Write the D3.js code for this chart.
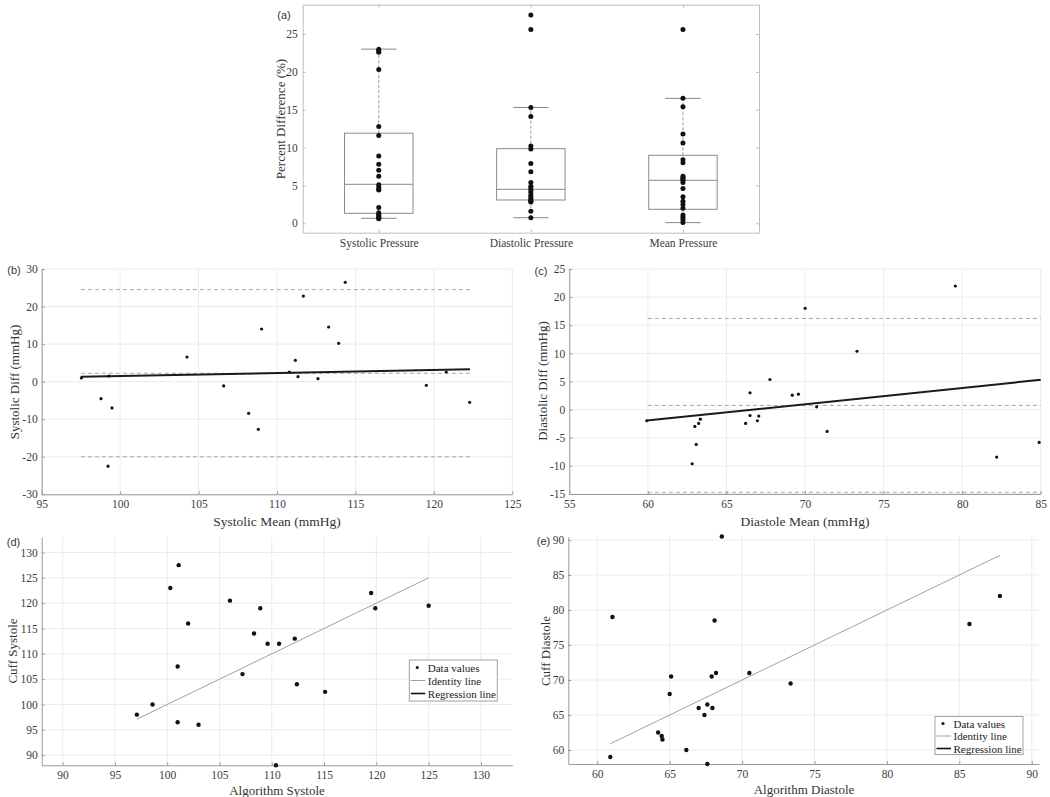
<!DOCTYPE html>
<html><head><meta charset="utf-8">
<script src="https://cdn.jsdelivr.net/npm/d3@7"></script>
<style>
html,body{margin:0;padding:0;background:#fff;}
svg{display:block;}
</style></head><body><svg id="c" width="1050" height="797"></svg>
<script>
// ---------------- DATA ----------------
// (a) box plot of percent differences
const boxCategories = ["Systolic Pressure", "Diastolic Pressure", "Mean Pressure"];
const boxQ1 = [1.32, 3.08, 1.85];
const boxMedian = [5.15, 4.49, 5.68];
const boxQ3 = [11.9, 9.86, 8.98];
const boxLowerWhisker = [0.66, 0.74, 0.09];
const boxUpperWhisker = [23.0, 15.3, 16.5];
const systolicPct = [23.0, 22.8, 22.6, 20.3, 12.8, 11.6, 8.9, 7.8, 7.0, 6.2, 5.1, 4.8, 4.5, 4.4, 2.1, 1.4, 1.2, 1.0, 0.8, 0.7, 0.6];
const diastolicPct = [27.5, 25.6, 15.3, 14.1, 10.2, 9.8, 7.9, 6.8, 5.4, 4.9, 4.7, 4.4, 4.1, 3.7, 3.4, 3.2, 3.0, 2.8, 2.9, 1.6, 0.75];
const meanPct = [25.6, 16.5, 15.4, 11.8, 10.6, 8.4, 8.0, 6.2, 6.0, 5.9, 5.7, 5.4, 4.6, 3.5, 2.9, 2.5, 2.0, 1.1, 0.8, 0.5, 0.1];
const pctTicks = [0, 5, 10, 15, 20, 25];

// (b) Bland-Altman systolic
const sysMean = [97.53, 98.78, 99.23, 99.29, 99.48, 104.26, 106.6, 108.19, 108.81, 109.02, 110.78, 111.17, 111.34, 111.68, 112.61, 113.29, 113.93, 114.35, 119.52, 120.79, 122.28];
const sysDiff = [0.98, -4.53, -22.5, 1.5, -7.0, 6.57, -1.15, -8.43, -12.69, 14.02, 2.57, 5.68, 1.33, 22.8, 0.8, 14.55, 10.2, 26.44, -0.98, 2.57, -5.5];
const sysLimits = [24.5, 2.23, -20.0];
const sysLimitX = [97.5, 122.3];
const sysRegX = [97.5, 122.3];
const sysRegY = [1.3, 3.3];
const sysMeanTicks = [95, 100, 105, 110, 115, 120, 125];
const sysDiffTicks = [-30, -20, -10, 0, 10, 20, 30];

// (c) Bland-Altman diastolic
const diaMean = [59.93, 62.82, 62.99, 63.08, 63.23, 63.34, 66.22, 66.5, 66.5, 66.97, 67.06, 67.77, 69.19, 69.58, 70.01, 70.74, 71.41, 73.31, 79.57, 82.2, 84.9];
const diaDiff = [-1.98, -9.62, -2.99, -6.18, -2.46, -1.69, -2.46, 2.99, -1.04, -1.98, -1.15, 5.36, 2.57, 2.75, 18.02, 0.5, -3.88, 10.38, 21.98, -8.43, -5.83];
const diaLimits = [16.2, 0.75, -14.7];
const diaLimitX = [60, 85];
const diaRegX = [59.93, 85];
const diaRegY = [-1.95, 5.3];
const diaMeanTicks = [55, 60, 65, 70, 75, 80, 85];
const diaDiffTicks = [-15, -10, -5, 0, 5, 10, 15, 20, 25];

// (d) algorithm vs cuff systole
const algSys = [97.1, 98.6, 100.3, 101.1, 101.0, 101.0, 102.0, 103.0, 106.0, 107.2, 108.3, 108.9, 109.6, 110.7, 110.4, 112.2, 112.4, 115.1, 119.5, 119.9, 125.0];
const cuffSys = [98, 100, 123, 127.5, 107.5, 96.5, 116, 96, 120.5, 106, 114, 119, 112, 112, 88, 113, 104, 102.5, 122, 119, 119.5];
const sysIdentity = [97.1, 125.0];
const sysTicks = [90, 95, 100, 105, 110, 115, 120, 125, 130];

// (e) algorithm vs cuff diastole
const algDia = [60.9, 61.05, 64.2, 64.45, 64.5, 65.0, 65.1, 66.15, 67.0, 67.4, 67.6, 67.6, 67.9, 67.95, 68.1, 68.2, 70.5, 73.35, 85.7, 87.8, 68.6];
const cuffDia = [59, 79, 62.5, 62, 61.5, 68, 70.5, 60, 66, 65, 66.5, 58, 70.5, 66, 78.5, 71, 71, 69.5, 78, 82, 90.5];
const diaIdentity = [60.9, 87.8];
const diaTicks = [60, 65, 70, 75, 80, 85, 90];

const legendLabels = ["Data values", "Identity line", "Regression line"];

// ---------------- DRAWING ----------------
const svg = d3.select("#c");
const SERIF = "'Liberation Serif','Times New Roman',serif";
const SANS = "'Liberation Sans',Arial,sans-serif";
const AX = "#9a9a9a", GRID = "#ebebeb", TXT = "#3c3c3c";
const fmt = d => String(d);

function styleAxis(sel, fs) {
  sel.attr("font-family", SERIF).attr("font-size", fs);
  sel.select(".domain").attr("stroke", AX);
  sel.selectAll(".tick line").attr("stroke", AX);
  sel.selectAll(".tick text").attr("fill", TXT);
}

function title(x, y, txt, rot, fs) {
  svg.append("text")
    .attr("transform", `translate(${x},${y})` + (rot ? " rotate(-90)" : ""))
    .attr("text-anchor", "middle").attr("dominant-baseline", "central")
    .attr("font-family", SERIF).attr("font-size", fs || 13.5).attr("fill", "#333")
    .text(txt);
}
function plabel(x, y, txt) {
  svg.append("text").attr("x", x).attr("y", y)
    .attr("text-anchor", "middle").attr("dominant-baseline", "central")
    .attr("font-family", SANS).attr("font-size", 11).attr("fill", "#333").text(txt);
}

function xyPanel(c) {
  const g = svg.append("g");
  const x = d3.scaleLinear().domain(c.xDomain).range([c.left, c.right]);
  const y = d3.scaleLinear().domain(c.yDomain).range([c.bottom, c.top]);
  // grid
  g.append("g").selectAll("line").data(c.xTicks).join("line")
    .attr("x1", d => x(d)).attr("x2", d => x(d)).attr("y1", c.top).attr("y2", c.bottom)
    .attr("stroke", GRID).attr("stroke-width", 1);
  g.append("g").selectAll("line").data(c.yTicks).join("line")
    .attr("y1", d => y(d)).attr("y2", d => y(d)).attr("x1", c.left).attr("x2", c.right)
    .attr("stroke", GRID).attr("stroke-width", 1);
  const xa = g.append("g").attr("transform", `translate(0,${c.bottom})`)
    .call(d3.axisBottom(x).tickValues(c.xTicks).tickFormat(fmt).tickSize(-3).tickSizeOuter(0).tickPadding(6));
  styleAxis(xa, 11.5);
  const ya = g.append("g").attr("transform", `translate(${c.left},0)`)
    .call(d3.axisLeft(y).tickValues(c.yTicks).tickFormat(fmt).tickSize(-3).tickSizeOuter(0).tickPadding(4));
  styleAxis(ya, 11.5);
  return {g, x, y};
}

// ---- (a) ----
(function () {
  const L = 302.7, R = 759, T = 4.7, B = 232.7;
  const x = d3.scaleLinear().domain([0.5, 3.5]).range([L, R]);
  const y = d3.scaleLinear().domain([-1.24, 28.87]).range([B, T]);
  const g = svg.append("g");
  const idx = [1, 2, 3];
  // ticks (mirrored, inside)
  const yl = g.append("g").attr("transform", `translate(${L},0)`)
    .call(d3.axisLeft(y).tickValues(pctTicks).tickFormat(fmt).tickSize(-3).tickSizeOuter(0).tickPadding(5));
  styleAxis(yl, 11.5);
  const yr = g.append("g").attr("transform", `translate(${R},0)`)
    .call(d3.axisRight(y).tickValues(pctTicks).tickFormat("").tickSize(-3).tickSizeOuter(0));
  styleAxis(yr, 11.5);
  const xb = g.append("g").attr("transform", `translate(0,${B})`)
    .call(d3.axisBottom(x).tickValues(idx).tickFormat((d, i) => boxCategories[i]).tickSize(-3).tickSizeOuter(0).tickPadding(6));
  styleAxis(xb, 11.5);
  const xt = g.append("g").attr("transform", `translate(0,${T})`)
    .call(d3.axisTop(x).tickValues(idx).tickFormat("").tickSize(-3).tickSizeOuter(0));
  styleAxis(xt, 11.5);
  g.selectAll(".domain").attr("stroke", "#bdbdbd");
  g.selectAll(".tick line").attr("stroke", "#bdbdbd");

  const BW = 0.225, CW = 0.117, BOXC = "#8a8a8a";
  idx.forEach((p, i) => {
    // whiskers
    g.append("line").attr("x1", x(p)).attr("x2", x(p)).attr("y1", y(boxQ3[i])).attr("y2", y(boxUpperWhisker[i]))
      .attr("stroke", "#999").attr("stroke-dasharray", "3,2");
    g.append("line").attr("x1", x(p)).attr("x2", x(p)).attr("y1", y(boxQ1[i])).attr("y2", y(boxLowerWhisker[i]))
      .attr("stroke", "#999").attr("stroke-dasharray", "3,2");
    [boxUpperWhisker[i], boxLowerWhisker[i]].forEach(v => {
      g.append("line").attr("x1", x(p - CW)).attr("x2", x(p + CW)).attr("y1", y(v)).attr("y2", y(v))
        .attr("stroke", BOXC);
    });
    g.append("rect").attr("x", x(p - BW)).attr("width", x(p + BW) - x(p - BW))
      .attr("y", y(boxQ3[i])).attr("height", y(boxQ1[i]) - y(boxQ3[i]))
      .attr("fill", "none").attr("stroke", BOXC);
    g.append("line").attr("x1", x(p - BW)).attr("x2", x(p + BW)).attr("y1", y(boxMedian[i])).attr("y2", y(boxMedian[i]))
      .attr("stroke", BOXC);
  });
  [systolicPct, diastolicPct, meanPct].forEach((arr, i) => {
    g.append("g").selectAll("circle").data(arr).join("circle")
      .attr("cx", x(i + 1)).attr("cy", d => y(d)).attr("r", 2.5).attr("fill", "#111");
  });
  title(280.7, 119, "Percent Difference (%)", true, 13);
  plabel(284, 15, "(a)");
})();

// ---- (b) ----
(function () {
  const c = {left: 41.7, right: 512.3, top: 269, bottom: 494.3, xDomain: [95, 125], yDomain: [-30, 30],
    xTicks: sysMeanTicks, yTicks: sysDiffTicks};
  const {g, x, y} = xyPanel(c);
  sysLimits.forEach(v => {
    g.append("line").attr("x1", x(sysLimitX[0])).attr("x2", x(sysLimitX[1])).attr("y1", y(v)).attr("y2", y(v))
      .attr("stroke", "#a8a8a8").attr("stroke-dasharray", "4,3");
  });
  g.append("line").attr("x1", x(sysRegX[0])).attr("x2", x(sysRegX[1])).attr("y1", y(sysRegY[0])).attr("y2", y(sysRegY[1]))
    .attr("stroke", "#1a1a1a").attr("stroke-width", 2);
  g.append("g").selectAll("circle").data(sysMean).join("circle")
    .attr("cx", d => x(d)).attr("cy", (d, i) => y(sysDiff[i])).attr("r", 1.6).attr("fill", "#111");
  title(277, 521, "Systolic Mean (mmHg)");
  title(14, 382, "Systolic Diff (mmHg)", true, 13);
  plabel(14, 270, "(b)");
})();

// ---- (c) ----
(function () {
  const c = {left: 569.3, right: 1040.7, top: 269, bottom: 494, xDomain: [55, 85], yDomain: [-15, 25],
    xTicks: diaMeanTicks, yTicks: diaDiffTicks};
  const {g, x, y} = xyPanel(c);
  diaLimits.forEach(v => {
    g.append("line").attr("x1", x(diaLimitX[0])).attr("x2", x(diaLimitX[1])).attr("y1", y(v)).attr("y2", y(v))
      .attr("stroke", "#a8a8a8").attr("stroke-dasharray", "4,3");
  });
  g.append("line").attr("x1", x(diaRegX[0])).attr("x2", x(diaRegX[1])).attr("y1", y(diaRegY[0])).attr("y2", y(diaRegY[1]))
    .attr("stroke", "#1a1a1a").attr("stroke-width", 2);
  g.append("g").selectAll("circle").data(diaMean).join("circle")
    .attr("cx", d => x(d)).attr("cy", (d, i) => y(diaDiff[i])).attr("r", 1.6).attr("fill", "#111");
  title(805, 521, "Diastole Mean (mmHg)");
  title(542, 381, "Diastolic Diff (mmHg)", true, 13);
  plabel(541, 271, "(c)");
})();

function legend(lx, ly, w, h, rows, textX) {
  const g = svg.append("g");
  g.append("rect").attr("x", lx).attr("y", ly).attr("width", w).attr("height", h)
    .attr("fill", "#fff").attr("stroke", "#a0a0a0");
  legendLabels.forEach((t, i) => {
    const yy = ly + rows[i];
    if (i === 0) g.append("circle").attr("cx", lx + 8).attr("cy", yy).attr("r", 1.6).attr("fill", "#111");
    else g.append("line").attr("x1", lx + 1.5).attr("x2", lx + 16).attr("y1", yy).attr("y2", yy)
      .attr("stroke", i === 1 ? "#a0a0a0" : "#111").attr("stroke-width", i === 1 ? 1 : 1.6);
    g.append("text").attr("x", lx + textX).attr("y", yy).attr("dominant-baseline", "central")
      .attr("font-family", SERIF).attr("font-size", 11).attr("fill", "#222").text(t);
  });
}

// ---- (d) ----
(function () {
  const c = {left: 41.7, right: 512.3, top: 537.3, bottom: 765.3, xDomain: [88, 133], yDomain: [88, 133],
    xTicks: sysTicks, yTicks: sysTicks};
  const {g, x, y} = xyPanel(c);
  g.append("line").attr("x1", x(sysIdentity[0])).attr("x2", x(sysIdentity[1]))
    .attr("y1", y(sysIdentity[0])).attr("y2", y(sysIdentity[1])).attr("stroke", "#a0a0a0").attr("stroke-width", 1);
  g.append("g").selectAll("circle").data(algSys).join("circle")
    .attr("cx", d => x(d)).attr("cy", (d, i) => y(cuffSys[i])).attr("r", 2.2).attr("fill", "#111");
  legend(409.3, 660, 88, 41, [7.5, 20.5, 33.5], 18.5);
  title(277, 790.5, "Algorithm Systole", false, 13);
  title(12, 651, "Cuff Systole", true, 13);
  plabel(13.5, 542, "(d)");
})();

// ---- (e) ----
(function () {
  const c = {left: 568.3, right: 1039, top: 536.5, bottom: 764, xDomain: [58, 90.5], yDomain: [58, 90.5],
    xTicks: diaTicks, yTicks: diaTicks};
  const {g, x, y} = xyPanel(c);
  g.append("line").attr("x1", x(diaIdentity[0])).attr("x2", x(diaIdentity[1]))
    .attr("y1", y(diaIdentity[0])).attr("y2", y(diaIdentity[1])).attr("stroke", "#a0a0a0").attr("stroke-width", 1);
  g.append("g").selectAll("circle").data(algDia).join("circle")
    .attr("cx", d => x(d)).attr("cy", (d, i) => y(cuffDia[i])).attr("r", 2.2).attr("fill", "#111");
  legend(935, 716.5, 88, 38, [7, 19.5, 32], 18.5);
  title(804, 789.5, "Algorithm Diastole", false, 13);
  title(545, 651, "Cuff Diastole", true, 13);
  plabel(543.5, 541, "(e)");
})();
</script></body></html>
